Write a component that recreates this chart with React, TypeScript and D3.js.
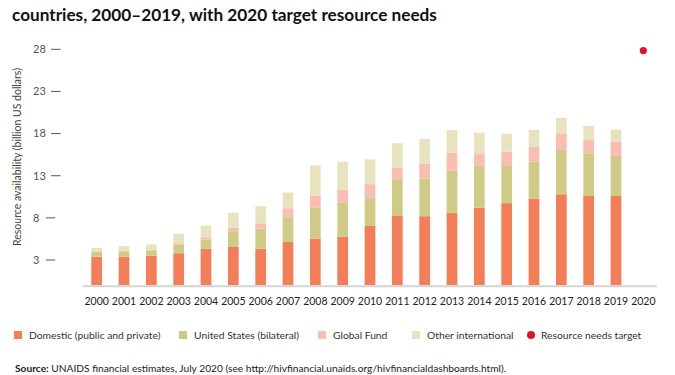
import React from "react";
import * as d3 from "d3";

const years = ["2000","2001","2002","2003","2004","2005","2006","2007","2008","2009","2010","2011","2012","2013","2014","2015","2016","2017","2018","2019","2020"];
const domestic = [3.4,3.4,3.5,3.8,4.35,4.55,4.35,5.15,5.55,5.75,7.05,8.3,8.2,8.6,9.2,9.75,10.3,10.8,10.6,10.6];
const unitedStates = [0.6,0.63,0.6,1.06,1.07,1.78,2.37,2.85,3.64,4.1,3.4,4.2,4.47,5.0,4.94,4.4,4.38,5.26,5.06,4.75];
const globalFund = [0.05,0.05,0.1,0.12,0.28,0.5,0.64,1.15,1.47,1.5,1.55,1.42,1.78,2.13,1.42,1.7,1.74,1.98,1.66,1.71];
const otherIntl = [0.38,0.58,0.66,1.14,1.38,1.78,2.02,1.86,3.55,3.32,2.93,2.93,2.92,2.69,2.53,2.13,2.02,1.81,1.58,1.42];
const targetYear = "2020";
const targetValue = 27.85;
const yTicks = [3,8,13,18,23,28];

const seriesKeys = ["domestic","us","gf","other"];
const seriesLabels = ["Domestic (public and private)","United States (bilateral)","Global Fund","Other international"];
const colors = ["#F47E57","#CFCB86","#F9BDB1","#E6E3BE"];
const targetColor = "#E3102F";
const targetLabel = "Resource needs target";

const FONT = "Lato, 'Open Sans', sans-serif";

export default function App() {
  const W = 675, H = 375;
  const x = d3.scalePoint<string>().domain(years).range([83, 657]).padding(0.5);
  const y = d3.scaleLinear().domain([0, 28]).range([285.3, 49.3]);
  const barW = 10.7;

  const rows = domestic.map((d, i) => ({
    year: years[i],
    domestic: d,
    us: unitedStates[i],
    gf: globalFund[i],
    other: otherIntl[i],
  }));
  const stacked = d3.stack<any>().keys(seriesKeys)(rows);

  const legendX = [14, 179, 318, 412];

  return (
    <svg width={W} height={H} style={{ position: "absolute", left: 0, top: 0, background: "#fff" }} fontFamily={FONT}>
      <text x={12} y={21} fontSize={17.2} fontWeight={700} fill="#111">
        countries, 2000–2019, with 2020 target resource needs
      </text>

      <text transform="translate(21,157) rotate(-90)" textAnchor="middle" fontSize={10.5} fill="#444">
        Resource availability (billion US dollars)
      </text>

      {yTicks.map((t) => {
        const len = String(t).length;
        const x1 = 33 + len * 5.3 + 7.5;
        return (
          <g key={t}>
            <text x={33} y={y(t)} dy="0.35em" fontSize={11} fill="#555">{t}</text>
            <line x1={x1} x2={x1 + 9.5} y1={y(t)} y2={y(t)} stroke="#555" strokeWidth={1} />
          </g>
        );
      })}

      {stacked.map((s, si) => (
        <g key={s.key} fill={colors[si]}>
          {s.map((d: any, i: number) => (
            <rect
              key={i}
              x={(x(d.data.year) as number) - barW / 2}
              width={barW}
              y={y(d[1])}
              height={Math.max(0, y(d[0]) - y(d[1]))}
            />
          ))}
        </g>
      ))}

      <line x1={83} x2={657} y1={286.3} y2={286.3} stroke="#d4d4d4" strokeWidth={2} />

      <circle cx={x(targetYear) as number} cy={y(targetValue)} r={3.6} fill={targetColor} />

      {years.map((yr) => (
        <text key={yr} x={x(yr) as number} y={305} textAnchor="middle" fontSize={10.5} fill="#222">{yr}</text>
      ))}

      {seriesLabels.map((lab, i) => (
        <g key={lab}>
          <rect x={legendX[i]} y={331} width={8} height={8} fill={colors[i]} />
          <text x={legendX[i] + 15} y={335} dy="0.35em" fontSize={10.3} fill="#333">{lab}</text>
        </g>
      ))}
      <circle cx={531} cy={335} r={4} fill={targetColor} />
      <text x={541} y={335} dy="0.35em" fontSize={10.3} fill="#333">{targetLabel}</text>

      <text x={15} y={372} fontSize={10.2} fill="#222">
        <tspan fontWeight={700}>Source:</tspan> UNAIDS financial estimates, July 2020 (see http://hivfinancial.unaids.org/hivfinancialdashboards.html).
      </text>
    </svg>
  );
}
